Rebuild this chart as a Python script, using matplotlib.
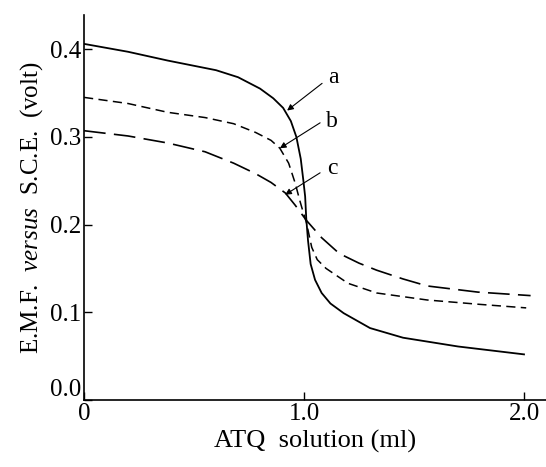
import matplotlib
matplotlib.use('Agg')
import matplotlib.pyplot as plt
from matplotlib.transforms import ScaledTranslation

plt.rcParams.update({
    'font.family': 'Liberation Serif',
    'mathtext.fontset': 'custom',
    'mathtext.rm': 'Liberation Serif',
    'mathtext.it': 'Liberation Serif:italic',
})

# curve a (solid)
a_x = [0, 0.2, 0.38, 0.6, 0.7, 0.8, 0.86, 0.905, 0.94, 0.965, 0.985, 0.997,
       1.005, 1.01, 1.018, 1.03, 1.05, 1.08, 1.12, 1.18, 1.3, 1.45, 1.7, 2.0]
a_y = [0.406, 0.397, 0.387, 0.376, 0.368, 0.355, 0.344, 0.333, 0.318, 0.300,
       0.275, 0.250, 0.232, 0.207, 0.182, 0.155, 0.137, 0.122, 0.110, 0.099,
       0.082, 0.071, 0.061, 0.052]

# curve b (short dashes)
b_x = [0, 0.2, 0.38, 0.55, 0.68, 0.78, 0.85, 0.89, 0.93, 0.96, 0.98, 0.995,
       1.01, 1.035, 1.06, 1.1, 1.2, 1.33, 1.56, 1.8, 2.01]
b_y = [0.345, 0.338, 0.328, 0.322, 0.315, 0.305, 0.296, 0.287, 0.270, 0.247,
       0.228, 0.215, 0.203, 0.174, 0.160, 0.150, 0.133, 0.122, 0.114, 0.109,
       0.105]

# curve c (long dashes)
c_x = [0, 0.2, 0.38, 0.55, 0.68, 0.78, 0.85, 0.915, 0.96, 1.01, 1.08, 1.16,
       1.25, 1.33, 1.45, 1.56, 1.79, 2.03]
c_y = [0.307, 0.301, 0.293, 0.283, 0.270, 0.258, 0.248, 0.236, 0.222, 0.205,
       0.185, 0.167, 0.156, 0.148, 0.138, 0.130, 0.123, 0.119]

# label text, arrow tail, arrow head
labels = ['a', 'b', 'c']
label_xy = [(1.11, 0.368), (1.10, 0.318), (1.105, 0.264)]
tail_xy = [(1.082, 0.361), (1.073, 0.316), (1.073, 0.259)]
head_xy = [(0.923, 0.330), (0.89, 0.287), (0.914, 0.234)]

xticks = [0, 1.0, 2.0]
xtick_labels = ['0', '1.0', '2.0']
yticks = [0.0, 0.1, 0.2, 0.3, 0.4]
ytick_labels = ['0.0', '0.1', '0.2', '0.3', '0.4']

fig = plt.figure(figsize=(5.46, 4.67), dpi=100)
ax = fig.add_axes([0.154, 0.1435, 0.846, 0.8245])

ax.plot(a_x, a_y, color='black', lw=1.3)
ax.plot(b_x, b_y, color='black', lw=1.1, dashes=(6, 3.5))
ax.plot(c_x, c_y, color='black', lw=1.2, dashes=(13, 5))

for lbl, lxy, txy, hxy in zip(labels, label_xy, tail_xy, head_xy):
    ax.annotate('', xy=hxy, xytext=txy,
                arrowprops=dict(arrowstyle='-|>', color='black', lw=0.8,
                                mutation_scale=9, shrinkA=0, shrinkB=0))
    ax.text(lxy[0], lxy[1], lbl, fontsize=17, ha='left', va='center')

ax.set_xlim(0, 2.1)
ax.set_ylim(0, 0.439)
ax.spines['top'].set_visible(False)
ax.spines['right'].set_visible(False)
ax.spines['left'].set_linewidth(1.2)
ax.spines['bottom'].set_linewidth(1.2)

ax.set_xticks(xticks)
ax.set_xticklabels(xtick_labels)
ax.set_yticks(yticks)
ax.set_yticklabels(ytick_labels)
ax.tick_params(direction='in', length=6, width=1, labelsize=18, pad=2)

# lift the "0.0" label a little so it clears the "0" below
lab0 = ax.get_yticklabels()[0]
lab0.set_transform(lab0.get_transform() + ScaledTranslation(0, 9 / 72, fig.dpi_scale_trans))

ax.set_xlabel('ATQ  solution (ml)', fontsize=19, labelpad=4)
ax.set_ylabel(r'E.M.F.  $\mathit{versus}$  S.C.E.  (volt)', fontsize=18, labelpad=4)

fig.savefig('out.png', dpi=100)
